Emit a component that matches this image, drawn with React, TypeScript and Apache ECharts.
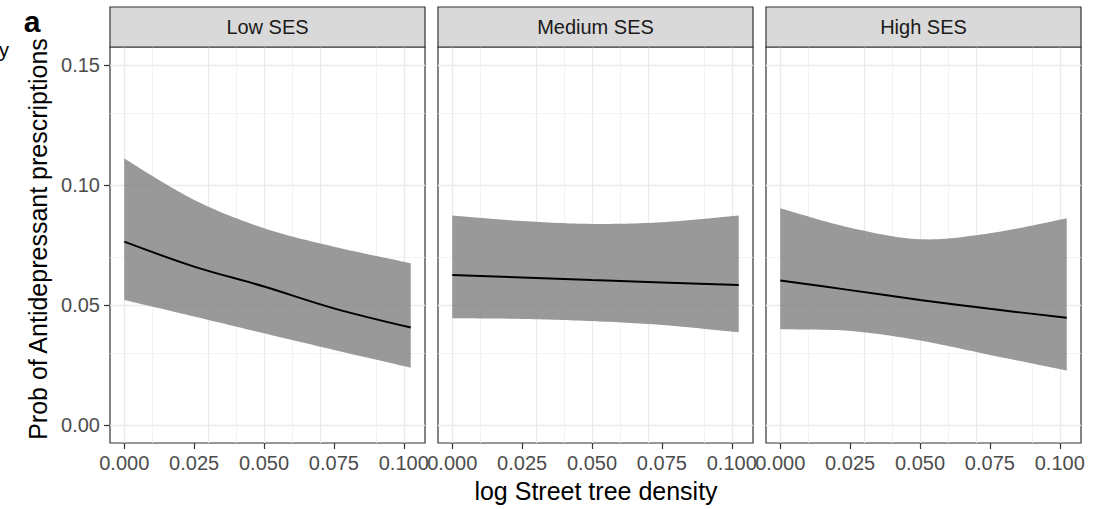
import { useEffect, useRef } from 'react';
import * as echarts from 'echarts';

// Facet labels
const panels = ['Low SES', 'Medium SES', 'High SES'];

// Predictor values along the x axis (log street tree density)
const density = [0, 0.025, 0.05, 0.075, 0.1025];

// Predicted probability and 95% interval per SES group
const fitLow = [0.0764, 0.066, 0.0577, 0.0486, 0.0406];
const upperLow = [0.111, 0.0938, 0.082, 0.0743, 0.0674];
const lowerLow = [0.0521, 0.0452, 0.0382, 0.0313, 0.0239];

const fitMedium = [0.0625, 0.0615, 0.0604, 0.0594, 0.0583];
const upperMedium = [0.0873, 0.085, 0.0838, 0.0845, 0.0873];
const lowerMedium = [0.0445, 0.0442, 0.0433, 0.0417, 0.0386];

const fitHigh = [0.0602, 0.0562, 0.0521, 0.0484, 0.0447];
const upperHigh = [0.0903, 0.0822, 0.0774, 0.0799, 0.0861];
const lowerHigh = [0.0399, 0.0392, 0.0352, 0.0292, 0.0227];

// Axis breaks
const xTicks = [0, 0.025, 0.05, 0.075, 0.1];
const xMinor = [0.0125, 0.0375, 0.0625, 0.0875];
const yTicks = [0, 0.05, 0.1, 0.15];
const yMinor = [0.025, 0.075, 0.125];

const xTitle = 'log Street tree density';
const yTitle = 'Prob of Antidepressant prescriptions';

const FONT = '"Liberation Sans", Arial, Helvetica, sans-serif';

type Pt = number[];

// Sample a Catmull-Rom spline through pixel points so the ribbon edges are smooth
function spline(pts: Pt[], steps = 16): Pt[] {
  const out: Pt[] = [];
  const n = pts.length;
  for (let i = 0; i < n - 1; i++) {
    const p0 = pts[Math.max(i - 1, 0)];
    const p1 = pts[i];
    const p2 = pts[i + 1];
    const p3 = pts[Math.min(i + 2, n - 1)];
    const c1 = [p1[0] + (p2[0] - p0[0]) / 6, p1[1] + (p2[1] - p0[1]) / 6];
    const c2 = [p2[0] - (p3[0] - p1[0]) / 6, p2[1] - (p3[1] - p1[1]) / 6];
    for (let s = 0; s < steps; s++) {
      const t = s / steps;
      const u = 1 - t;
      out.push([
        u * u * u * p1[0] + 3 * u * u * t * c1[0] + 3 * u * t * t * c2[0] + t * t * t * p2[0],
        u * u * u * p1[1] + 3 * u * u * t * c1[1] + 3 * u * t * t * c2[1] + t * t * t * p2[1],
      ]);
    }
  }
  out.push(pts[n - 1]);
  return out;
}

export default function App() {
  const ref = useRef<HTMLDivElement>(null);

  useEffect(() => {
    if (!ref.current) return;
    const chart = echarts.init(ref.current, undefined, { renderer: 'svg' });

    const fits = [fitLow, fitMedium, fitHigh];
    const uppers = [upperLow, upperMedium, upperHigh];
    const lowers = [lowerLow, lowerMedium, lowerHigh];

    const lefts = [110, 438, 766];
    const top = 47;
    const width = 315;
    const height = 396;
    const stripTop = 7;

    const grid = lefts.map((left) => ({
      left,
      top,
      width,
      height,
      show: true,
      backgroundColor: '#ffffff',
      borderColor: '#333333',
      borderWidth: 1.2,
    }));

    const xAxis = lefts.map((_, i) => ({
      type: 'value',
      gridIndex: i,
      min: -0.0051,
      max: 0.1076,
      axisLine: { show: false, onZero: false },
      splitLine: { show: false },
      axisTick: {
        show: true,
        customValues: xTicks,
        length: 6,
        lineStyle: { color: '#333333', width: 1.2 },
      },
      axisLabel: {
        customValues: xTicks,
        formatter: (v: number) => v.toFixed(3),
        color: '#4d4d4d',
        fontSize: 20,
        fontFamily: FONT,
        margin: 10,
      },
    }));

    const yAxis = lefts.map((_, i) => ({
      type: 'value',
      gridIndex: i,
      min: -0.0075,
      max: 0.1575,
      axisLine: { show: false, onZero: false },
      splitLine: { show: false },
      axisTick: {
        show: i === 0,
        customValues: yTicks,
        length: 6,
        lineStyle: { color: '#333333', width: 1.2 },
      },
      axisLabel: {
        show: i === 0,
        customValues: yTicks,
        formatter: (v: number) => v.toFixed(2),
        color: '#4d4d4d',
        fontSize: 20,
        fontFamily: FONT,
        margin: 10,
      },
    }));

    const major = { color: '#ebebeb', width: 1.3, type: 'solid' };
    const minor = { color: '#f0f0f0', width: 0.8, type: 'solid' };

    const series: any[] = [];
    lefts.forEach((_, i) => {
      // panel grid lines, kept beneath the ribbon
      series.push({
        type: 'line',
        xAxisIndex: i,
        yAxisIndex: i,
        data: [],
        z: 1,
        silent: true,
        markLine: {
          silent: true,
          z: 1,
          symbol: ['none', 'none'],
          label: { show: false },
          animation: false,
          data: [
            ...xMinor.map((v) => ({ xAxis: v, lineStyle: minor })),
            ...yMinor.map((v) => ({ yAxis: v, lineStyle: minor })),
            ...xTicks.map((v) => ({ xAxis: v, lineStyle: major })),
            ...yTicks.map((v) => ({ yAxis: v, lineStyle: major })),
          ],
        },
      });
      // confidence ribbon between lower and upper bounds
      const ribbon = density.map((x, j) => [x, lowers[i][j], uppers[i][j]]);
      series.push({
        type: 'custom',
        xAxisIndex: i,
        yAxisIndex: i,
        silent: true,
        z: 2,
        data: ribbon,
        renderItem: (params: any, api: any) => {
          if (params.dataIndex !== 0) return null;
          const up = ribbon.map((d) => api.coord([d[0], d[2]]));
          const lo = ribbon.map((d) => api.coord([d[0], d[1]]));
          const pts = spline(up).concat(spline(lo).reverse());
          return {
            type: 'polygon',
            shape: { points: pts },
            style: { fill: 'rgba(130,130,130,0.82)' },
          };
        },
      });
      // fitted line
      series.push({
        type: 'line',
        xAxisIndex: i,
        yAxisIndex: i,
        smooth: 0.35,
        symbol: 'none',
        silent: true,
        z: 3,
        lineStyle: { color: '#000000', width: 2 },
        data: density.map((x, j) => [x, fits[i][j]]),
      });
    });

    const graphic: any[] = [];
    panels.forEach((name, i) => {
      graphic.push({
        type: 'rect',
        shape: { x: lefts[i], y: stripTop, width, height: top - stripTop },
        style: { fill: '#d9d9d9', stroke: '#333333', lineWidth: 1.2 },
        z: 10,
      });
      graphic.push({
        type: 'text',
        x: lefts[i] + width / 2,
        y: (stripTop + top) / 2,
        style: {
          text: name,
          fill: '#1a1a1a',
          fontSize: 20,
          fontFamily: FONT,
          textAlign: 'center',
          textVerticalAlign: 'middle',
        },
        z: 11,
      });
    });
    graphic.push({
      type: 'text',
      x: 596,
      y: 491,
      style: {
        text: xTitle,
        fill: '#000000',
        fontSize: 25,
        fontFamily: FONT,
        textAlign: 'center',
        textVerticalAlign: 'middle',
      },
    });
    graphic.push({
      type: 'text',
      x: 38,
      y: 239,
      rotation: Math.PI / 2,
      style: {
        text: yTitle,
        fill: '#000000',
        fontSize: 25,
        fontFamily: FONT,
        textAlign: 'center',
        textVerticalAlign: 'middle',
      },
    });
    graphic.push({
      type: 'text',
      x: 32,
      y: 21,
      style: {
        text: 'a',
        fill: '#000000',
        fontSize: 30,
        fontWeight: 'bold',
        fontFamily: FONT,
        textAlign: 'center',
        textVerticalAlign: 'middle',
      },
    });
    graphic.push({
      type: 'text',
      x: 9,
      y: 50,
      style: {
        text: 'y',
        fill: '#000000',
        fontSize: 20,
        fontFamily: FONT,
        textAlign: 'right',
        textVerticalAlign: 'middle',
      },
    });

    chart.setOption({
      animation: false,
      backgroundColor: '#ffffff',
      grid,
      xAxis,
      yAxis,
      series,
      graphic,
    } as any);

    return () => chart.dispose();
  }, []);

  return (
    <div
      ref={ref}
      style={{ position: 'absolute', left: 0, top: 0, width: 1099, height: 509 }}
    />
  );
}
